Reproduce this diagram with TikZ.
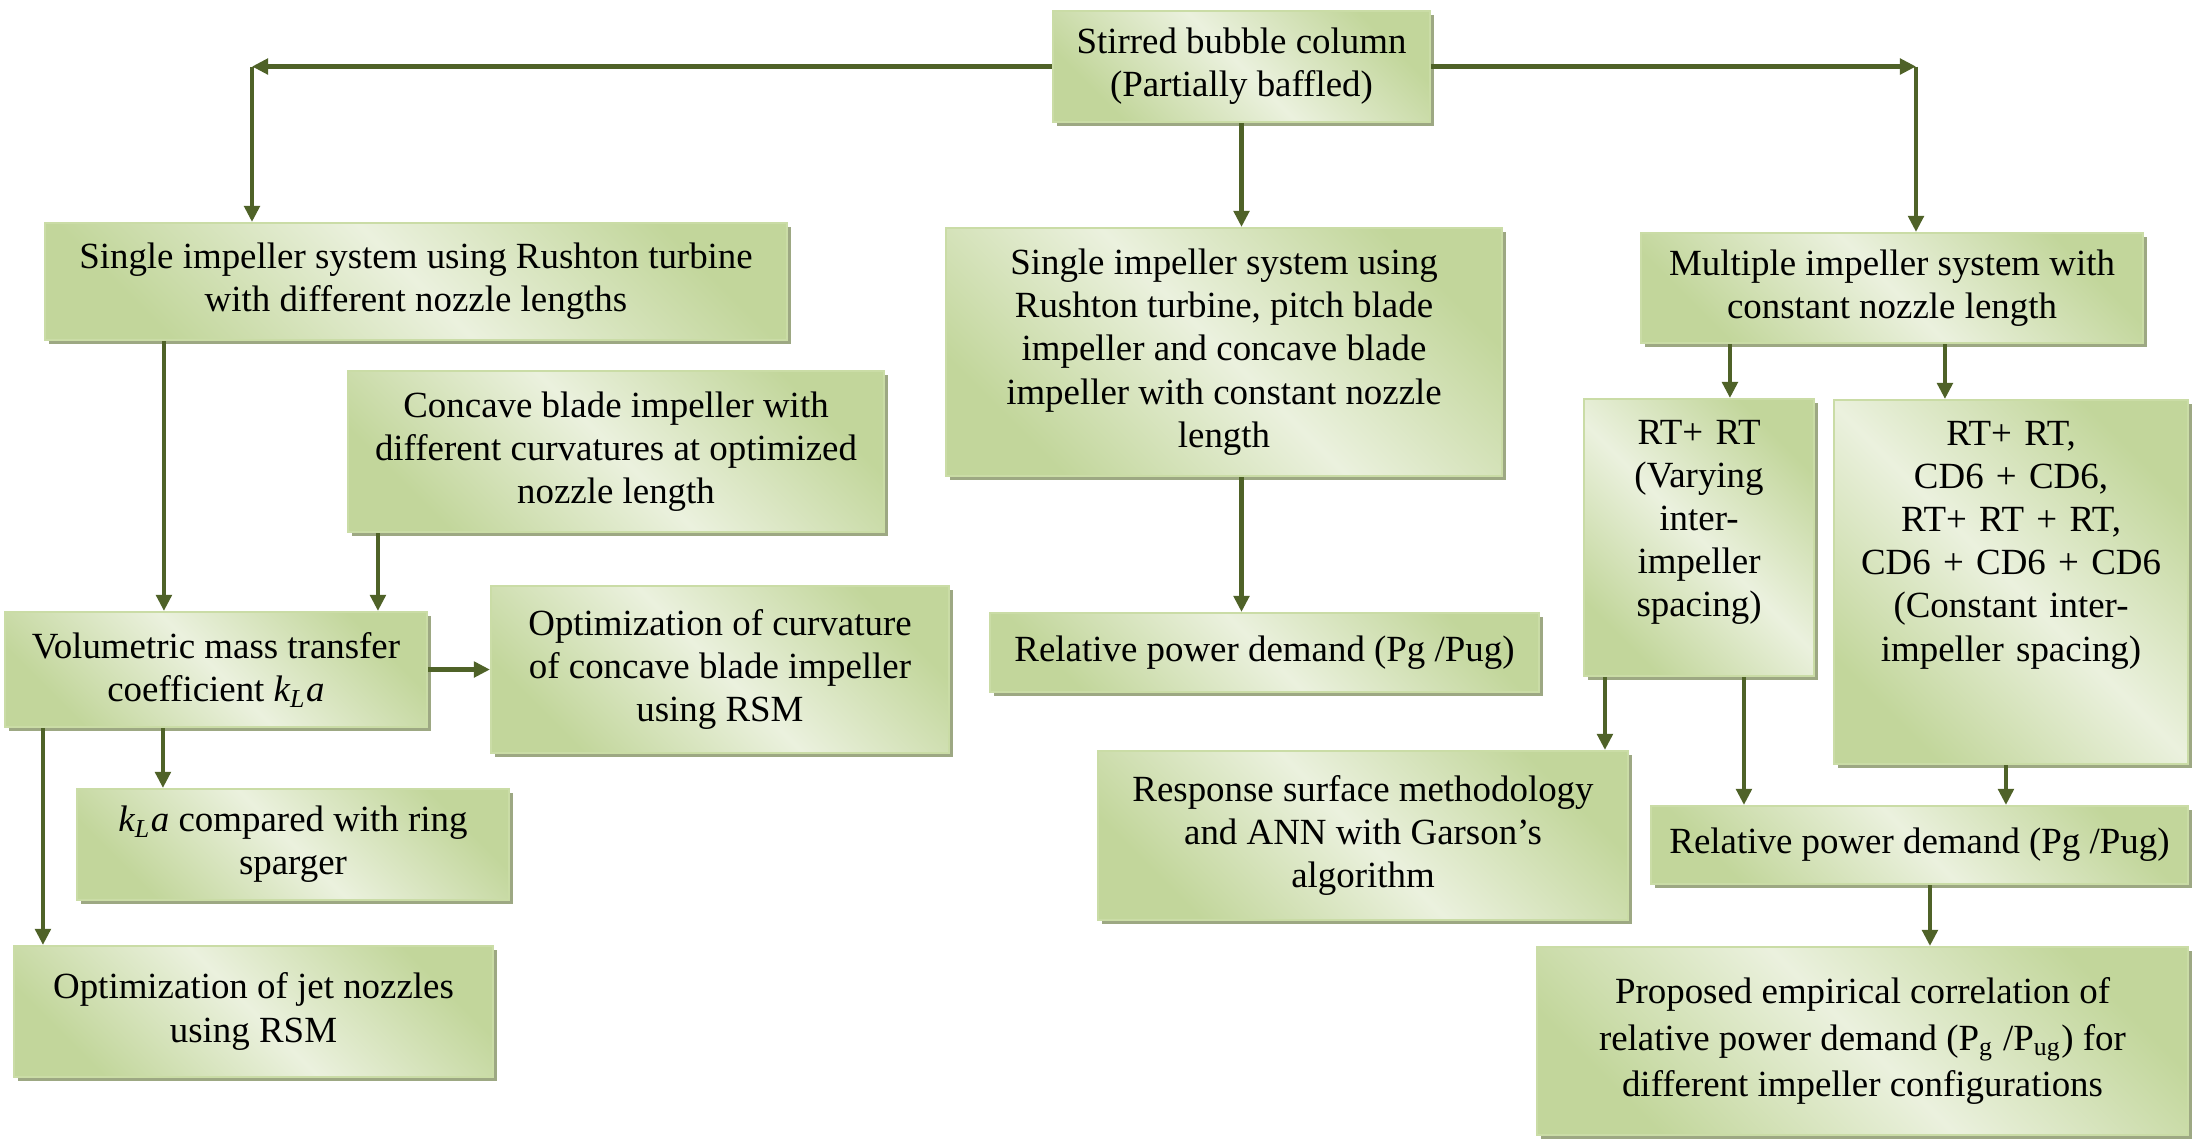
\documentclass[tikz,border=0pt]{standalone}
\usepackage{fontspec}
\setmainfont{Liberation Serif}
\usepackage{tikz}
\usetikzlibrary{arrows.meta, shadows}

\definecolor{linkgreen}{HTML}{4F6228}
\definecolor{boxdark}{HTML}{C2D69B}
\definecolor{boxlight}{HTML}{EBF1DE}
\definecolor{boxedge}{HTML}{CADCA6}
\definecolor{boxshadow}{HTML}{9DA883}

\newcommand{\boxfont}{\fontsize{10.5}{12.3}\selectfont}
\newcommand{\kla}{\textit{k\textsubscript{L}a}}

\tikzset{
    % Stage box - green diagonal gradient with a drop shadow
    stage box/.style={rectangle, draw=boxedge, line width=0.6pt,
        top color=boxdark, bottom color=boxdark, middle color=boxlight,
        shading angle=-45,
        drop shadow={shadow xshift=1.1pt, shadow yshift=-1.1pt, fill=boxshadow, opacity=1},
        align=center, inner sep=0pt, font=\boxfont},
    % Connector - dark olive line with triangle head
    link/.style={draw=linkgreen, line width=1.2pt, -{Triangle[length=4.6pt, width=4.4pt]}}
}

\begin{document}
\begin{tikzpicture}
    \useasboundingbox (0,0) rectangle (21.94,-11.39);

    % --- Root ---
    \node[stage box, minimum width=3.77cm, minimum height=1.11cm] (column) at (12.415,-0.665)
        {Stirred bubble column\\(Partially baffled)};

    % --- Left branch: single impeller, nozzle lengths ---
    \node[stage box, minimum width=7.42cm, minimum height=1.17cm] (single) at (4.16,-2.815)
        {Single impeller system using Rushton turbine\\with different nozzle lengths};
    \node[stage box, minimum width=5.36cm, minimum height=1.61cm] (concave) at (6.16,-4.515)
        {Concave blade impeller with\\different curvatures at optimized\\nozzle length};
    \node[stage box, minimum width=4.22cm, minimum height=1.15cm] (vol) at (2.16,-6.695)
        {Volumetric mass transfer\\coefficient \kla};
    \node[stage box, minimum width=4.58cm, minimum height=1.67cm] (optcurv) at (7.20,-6.695)
        {Optimization of curvature\\of concave blade impeller\\using RSM};
    \node[stage box, minimum width=4.32cm, minimum height=1.11cm] (kla) at (2.93,-8.445)
        {\kla{} compared with ring\\sparger};
    \node[stage box, minimum width=4.79cm, minimum height=1.31cm] (jet) at (2.535,-10.115)
        {Optimization of jet nozzles\\using RSM};

    % --- Middle branch: three impeller types ---
    \node[stage box, minimum width=5.56cm, minimum height=2.48cm] (threeimp) at (12.24,-3.52)
        {Single impeller system using\\Rushton turbine, pitch blade\\impeller and concave blade\\impeller with constant nozzle\\length};
    \node[stage box, minimum width=5.49cm, minimum height=0.79cm] (relpC) at (12.645,-6.525)
        {Relative power demand (Pg /Pug)};

    % --- Right branch: multiple impellers ---
    \node[stage box, minimum width=5.02cm, minimum height=1.10cm] (multi) at (18.92,-2.88)
        {Multiple impeller system with\\constant nozzle length};
    \node[stage box, anchor=north, text width=2.30cm, inner ysep=0.15cm,
          text height=0.30cm, text depth=2.17cm] (rtv) at (16.99,-3.98)
        {RT+ RT\\(Varying\\inter-\\impeller\\spacing)};
    \node[stage box, anchor=north, text width=3.54cm, inner ysep=0.15cm,
          text height=0.30cm, text depth=3.04cm] (big) at (20.11,-3.99)
        {RT+ RT,\\CD6 + CD6,\\RT+ RT + RT,\\CD6 + CD6 + CD6\\(Constant inter-\\impeller spacing)};
    \node[stage box, minimum width=5.30cm, minimum height=1.69cm] (resp) at (13.63,-8.355)
        {Response surface methodology\\and ANN with Garson’s\\algorithm};
    \node[stage box, minimum width=5.37cm, minimum height=0.78cm] (relpR) at (19.195,-8.45)
        {Relative power demand (Pg /Pug)};
    \node[stage box, minimum width=6.51cm, minimum height=1.88cm] (prop) at (18.625,-10.41)
        {Proposed empirical correlation of\\[1pt]relative power demand (P\textsubscript{g} /P\textsubscript{ug}) for\\[1pt]different impeller configurations};

    % --- Connectors from the root ---
    \coordinate (splitL) at (2.52,-0.665);
    \coordinate (splitR) at (19.16,-0.665);
    \draw[link] (column.west) -- (splitL);
    \draw[link] (splitL) -- (splitL |- single.north);
    \draw[link] (column.east) -- (splitR);
    \draw[link] (splitR) -- (splitR |- multi.north);
    \draw[link] (column.south) -- (column.south |- threeimp.north);

    % --- Left branch connectors ---
    \draw[link] ([xshift=1.20cm]single.south west) -- ([xshift=1.20cm]single.south west |- vol.north);
    \draw[link] ([xshift=0.31cm]concave.south west) -- ([xshift=0.31cm]concave.south west |- vol.north);
    \draw[link] (vol.east) -- (vol.east -| optcurv.west);
    \draw[link] ([xshift=1.59cm]vol.south west) -- ([xshift=1.59cm]vol.south west |- kla.north);
    \draw[link] ([xshift=0.39cm]vol.south west) -- ([xshift=0.39cm]vol.south west |- jet.north);

    % --- Middle branch connector ---
    \draw[link] (column.south |- threeimp.south) -- (column.south |- relpC.north);

    % --- Right branch connectors ---
    \draw[link] ([xshift=0.90cm]multi.south west) -- ([xshift=0.90cm]multi.south west |- rtv.north);
    \draw[link] ([xshift=3.05cm]multi.south west) -- ([xshift=3.05cm]multi.south west |- big.north);
    \draw[link] ([xshift=0.22cm]rtv.south west) -- ([xshift=0.22cm]rtv.south west |- resp.north);
    \draw[link] ([xshift=1.61cm]rtv.south west) -- ([xshift=1.61cm]rtv.south west |- relpR.north);
    \draw[link] ([xshift=1.73cm]big.south west) -- ([xshift=1.73cm]big.south west |- relpR.north);
    \draw[link] ([xshift=2.80cm]relpR.south west) -- ([xshift=2.80cm]relpR.south west |- prop.north);

\end{tikzpicture}
\end{document}
